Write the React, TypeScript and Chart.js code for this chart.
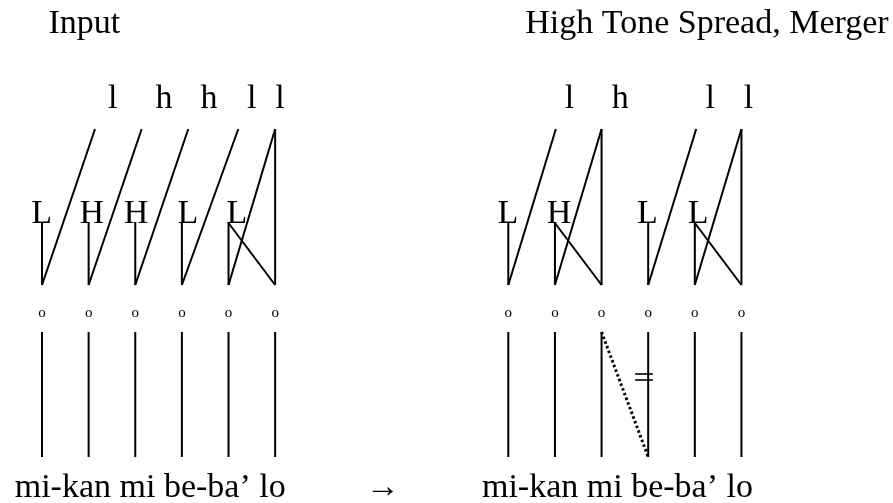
import React, { useEffect, useRef } from "react";
import { Chart, registerables } from "chart.js";

Chart.register(...registerables);

// ---- Data (x in "slot" units: left panel slots 0-5, right panel slots 10-15; y in row units) ----
const titles = ["Input", "High Tone Spread, Merger"];
const titleSlots = [0.91, 14.26];
const word = "mi-kan mi be-ba’ lo";
const wordSlots = [2.32, 12.34];
const arrowText = "→";
const arrowSlot = 7.31;

const leftSlots = [0, 1, 2, 3, 4, 5];
const rightSlots = [10, 11, 12, 13, 14, 15];
const syllableMark = "o";

// floating (lowercase) tones
const leftFloating = ["l", "h", "h", "l", "l"];
const leftFloatingSlots = [1.516, 2.616, 3.581, 4.497, 5.104];
const rightFloating = ["l", "h", "l", "l"];
const rightFloatingSlots = [11.31, 12.4, 14.33, 15.15];

// linked (capital) tones
const leftTones = ["L", "H", "H", "L", "L"];
const leftToneSlots = [-0.01, 1.066, 2.016, 3.131, 4.182];
const rightTones = ["L", "H", "L", "L"];
const rightToneSlots = [9.99, 11.087, 12.985, 14.07];

// association lines
const leftStems = [0, 1, 2, 3, 4];
const rightStems = [10, 11, 13, 14];
const leftDiagFrom = [0, 1, 2, 3, 4];
const leftDiagTo = [1.137, 2.138, 3.137, 4.21, 5];
const rightDiagFrom = [10, 11, 13, 14];
const rightDiagTo = [11.02, 12, 14.03, 15];
const leftCrossFrom = [4];
const leftCrossTo = [5];
const rightCrossFrom = [11, 14];
const rightCrossTo = [12, 15];
const leftTall = [5];
const rightTall = [12, 15];

// merger (dotted) and delink mark
const dottedFrom = 12;
const dottedTo = 13;
const delinkSlots = [12.72, 13.1];

// rows
const rowTitle = 33;
const rowFloating = 108;
const rowToneTop = 129;
const rowToneLabel = 223;
const rowToneBase = 222;
const rowNode = 285;
const rowSyllable = 313;
const rowSegTop = 332;
const rowSegBottom = 457;
const rowDelink = [374, 380];
const rowWord = 497;

const INK = "#000000";
const FONT = "'Liberation Serif', 'Times New Roman', serif";

function seg(x1: number, y1: number, x2: number, y2: number, extra: any = {}) {
  return {
    type: "line" as const,
    data: [
      { x: x1, y: y1 },
      { x: x2, y: y2 },
    ],
    borderColor: INK,
    borderWidth: 2,
    pointRadius: 0,
    showLine: true,
    fill: false,
    tension: 0,
    ...extra,
  };
}

function buildDatasets() {
  const ds: any[] = [];
  leftStems.forEach((s) => ds.push(seg(s, rowToneBase, s, rowNode)));
  rightStems.forEach((s) => ds.push(seg(s, rowToneBase, s, rowNode)));
  leftDiagFrom.forEach((s, i) => ds.push(seg(s, rowNode, leftDiagTo[i], rowToneTop)));
  rightDiagFrom.forEach((s, i) => ds.push(seg(s, rowNode, rightDiagTo[i], rowToneTop)));
  leftCrossFrom.forEach((s, i) => ds.push(seg(s, rowToneLabel, leftCrossTo[i], rowNode)));
  rightCrossFrom.forEach((s, i) => ds.push(seg(s, rowToneLabel, rightCrossTo[i], rowNode)));
  leftTall.forEach((s) => ds.push(seg(s, rowToneTop, s, rowNode)));
  rightTall.forEach((s) => ds.push(seg(s, rowToneTop, s, rowNode)));
  [...leftSlots, ...rightSlots].forEach((s) => ds.push(seg(s, rowSegTop, s, rowSegBottom)));
  ds.push(
    seg(dottedFrom, rowSegTop, dottedTo, rowSegBottom, {
      borderWidth: 3,
      borderDash: [2.5, 2.5],
    })
  );
  rowDelink.forEach((r) => ds.push(seg(delinkSlots[0], r, delinkSlots[1], r, { borderWidth: 1.6 })));
  return ds;
}

const textPlugin = {
  id: "diagramText",
  afterDatasetsDraw(chart: any) {
    const { ctx, scales } = chart;
    const X = (v: number) => scales.x.getPixelForValue(v);
    const Y = (v: number) => scales.y.getPixelForValue(v);
    ctx.save();
    ctx.fillStyle = INK;
    ctx.textAlign = "center";
    ctx.textBaseline = "alphabetic";
    ctx.font = `34px ${FONT}`;
    titles.forEach((t, i) => ctx.fillText(t, X(titleSlots[i]), Y(rowTitle)));
    wordSlots.forEach((s) => ctx.fillText(word, X(s), Y(rowWord)));
    ctx.fillText(arrowText, X(arrowSlot), Y(rowWord));
    leftFloating.forEach((t, i) => ctx.fillText(t, X(leftFloatingSlots[i]), Y(rowFloating)));
    rightFloating.forEach((t, i) => ctx.fillText(t, X(rightFloatingSlots[i]), Y(rowFloating)));
    leftTones.forEach((t, i) => ctx.fillText(t, X(leftToneSlots[i]), Y(rowToneLabel)));
    rightTones.forEach((t, i) => ctx.fillText(t, X(rightToneSlots[i]), Y(rowToneLabel)));
    ctx.font = `15px ${FONT}`;
    ctx.textBaseline = "middle";
    [...leftSlots, ...rightSlots].forEach((s) => ctx.fillText(syllableMark, X(s), Y(rowSyllable)));
    ctx.restore();
  },
};

export default function App() {
  const ref = useRef<HTMLCanvasElement | null>(null);
  useEffect(() => {
    document.body.style.margin = "0";
    document.body.style.background = "#ffffff";
    const canvas = ref.current;
    if (!canvas) return;
    const chart = new Chart(canvas, {
      type: "scatter",
      data: { datasets: buildDatasets() },
      options: {
        animation: false,
        responsive: false,
        devicePixelRatio: 1,
        layout: { padding: 0 },
        plugins: { legend: { display: false }, tooltip: { enabled: false } },
        events: [],
        scales: {
          x: { type: "linear", display: false, min: -42 / 46.63, max: (893 - 42) / 46.63 },
          y: { type: "linear", display: false, min: 0, max: 503, reverse: true },
        },
      },
      plugins: [textPlugin],
    });
    return () => chart.destroy();
  }, []);
  return (
    <div style={{ position: "absolute", left: 0, top: 0, width: 893, height: 503, background: "#fff" }}>
      <canvas ref={ref} width={893} height={503} style={{ display: "block" }} />
    </div>
  );
}
